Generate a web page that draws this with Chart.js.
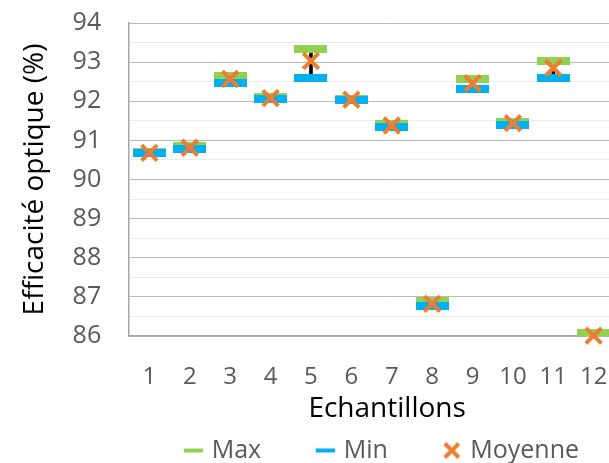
<!DOCTYPE html>
<html>
<head>
<meta charset="utf-8">
<script src="https://cdn.jsdelivr.net/npm/chart.js@4/dist/chart.umd.min.js"></script>
<style>
html,body{margin:0;padding:0;background:#fff;width:609px;height:463px;overflow:hidden}
#wrap{width:609px;height:463px;overflow:hidden;position:relative}
#c{display:block;position:absolute;left:0;top:-20px}
</style>
</head>
<body>
<div id="wrap"><canvas id="c" width="660" height="493" style="width:660px;height:493px"></canvas></div>
<script>
// ---- data ----
const xLabels = ['1','2','3','4','5','6','7','8','9','10','11','12'];
const maxValues  = [90.70, 90.85, 92.64, 92.10, 93.34, 92.06, 91.43, 86.90, 92.57, 91.48, 93.03, 86.08];
const minValues  = [90.67, 90.78, 92.46, 92.07, 92.59, 92.03, 91.33, 86.76, 92.31, 91.40, 92.60, 85.95];
const meanValues = [90.68, 90.81, 92.57, 92.08, 93.03, 92.04, 91.38, 86.82, 92.46, 91.44, 92.85, 86.01];
const yTickLabels = ['86','87','88','89','90','91','92','93','94'];
const seriesNames = ['Max', 'Min', 'Moyenne'];
const xTitle = 'Echantillons';
const yTitle = 'Efficacité optique (%)';

// ---- styles ----
const GREEN = '#92D050', BLUE = '#00B0F0', ORANGE = '#ED7D31';
const FONT = '"Open Sans", "DejaVu Sans", sans-serif';

function makeDash(w, h, color) {
  const c = document.createElement('canvas');
  c.width = w; c.height = h;
  const g = c.getContext('2d');
  g.fillStyle = color; g.fillRect(0, 0, w, h);
  return c;
}
const LEG_BOX = 60;
function makeLegendIcon(kind, color) {
  const W = LEG_BOX + 7, H = 24;
  const c = document.createElement('canvas');
  c.width = W; c.height = H;
  const g = c.getContext('2d');
  if (kind === 'dash') {
    g.fillStyle = color;
    g.fillRect(W - 19, H / 2 - 2, 19, 4);
  } else {
    const cx = W - 9.5, cy = H / 2, r = 7;
    g.strokeStyle = color; g.lineWidth = 4;
    g.beginPath();
    g.moveTo(cx - r, cy - r); g.lineTo(cx + r, cy + r);
    g.moveTo(cx - r, cy + r); g.lineTo(cx + r, cy - r);
    g.stroke();
  }
  return c;
}
const legendIcons = [makeLegendIcon('dash', GREEN), makeLegendIcon('dash', BLUE), makeLegendIcon('x', ORANGE)];

const toPoints = arr => arr.map((v, i) => ({x: i + 1, y: v}));

const chart = new Chart(document.getElementById('c'), {
  type: 'line',
  data: {
    datasets: [
      { label: seriesNames[0], data: toPoints(maxValues), showLine: false,
        pointStyle: makeDash(33, 8, GREEN), pointRadius: 1, pointHoverRadius: 1, pointBorderWidth: 0,
        backgroundColor: GREEN, borderColor: GREEN, order: 3, clip: 0 },
      { label: seriesNames[1], data: toPoints(minValues), showLine: false,
        pointStyle: makeDash(33, 8, BLUE), pointRadius: 1, pointHoverRadius: 1, pointBorderWidth: 0,
        backgroundColor: BLUE, borderColor: BLUE, order: 2, clip: 0 },
      { label: seriesNames[2], data: toPoints(meanValues), showLine: false,
        pointStyle: 'crossRot', pointRadius: 11, pointHoverRadius: 11, pointBorderWidth: 4,
        pointHoverBorderWidth: 4, backgroundColor: ORANGE, borderColor: ORANGE, borderWidth: 4, order: 1, clip: false },
      { type: 'bar', label: 'hl', data: xLabels.map((_, i) => ({x: i + 1, y: [minValues[i], maxValues[i]]})),
        backgroundColor: '#000000', borderWidth: 0, barThickness: 3, order: 4, clip: 0 }
    ]
  },
  options: {
    responsive: false,
    animation: false,
    devicePixelRatio: 1,
    events: [],
    layout: { padding: { left: 0, right: 13, top: 0, bottom: 0 } },
    scales: {
      x: {
        type: 'linear', min: 0.5, max: 13.27, offset: false,
        grid: { display: false, drawTicks: false, offset: false },
        border: { display: true, color: '#A6A6A6', width: 1.5 },
        afterBuildTicks: s => { s.ticks = xLabels.map((_, i) => ({value: i + 1})); },
        ticks: { autoSkip: false, maxRotation: 0, padding: 0, color: '#595959',
                 font: { family: FONT, size: 24, lineHeight: '82px' },
                 callback: v => xLabels[v - 1] },
        title: { display: true, text: xTitle, color: '#000000',
                 font: { family: FONT, size: 28 }, padding: { top: -25.5, bottom: 1.9 } }
      },
      y: {
        type: 'linear', min: 86, max: 94, beginAtZero: false,
        grid: { drawTicks: false, lineWidth: 1,
                color: c => (c.tick && Number.isInteger(c.tick.value)) ? '#BBBBBB' : '#EBEBEB' },
        border: { display: true, color: '#A6A6A6', width: 1.5 },
        ticks: { stepSize: 0.5, autoSkip: false, padding: 28, color: '#595959',
                 font: { family: FONT, size: 25 },
                 callback: v => yTickLabels.includes(String(v)) ? String(v) : '' },
        title: { display: true, text: yTitle, color: '#000000',
                 font: { family: FONT, size: 28 }, padding: { top: 18.5, bottom: -7.5 } }
      }
    },
    plugins: {
      tooltip: { enabled: false },
      legend: {
        position: 'bottom', align: 'start', fullSize: false,
        labels: {
          usePointStyle: true, pointStyleWidth: LEG_BOX, boxHeight: 24, padding: 10,
          color: '#595959', font: { family: FONT, size: 25 },
          generateLabels: ch => Chart.defaults.plugins.legend.labels.generateLabels(ch)
            .filter(it => it.datasetIndex < 3)
            .map(it => Object.assign({}, it, { pointStyle: legendIcons[it.datasetIndex], rotation: 0 })),
          sort: (a, b) => a.datasetIndex - b.datasetIndex
        }
      }
    }
  }
});
if (document.fonts && document.fonts.ready) { document.fonts.ready.then(() => chart.update()); }
</script>
</body>
</html>
